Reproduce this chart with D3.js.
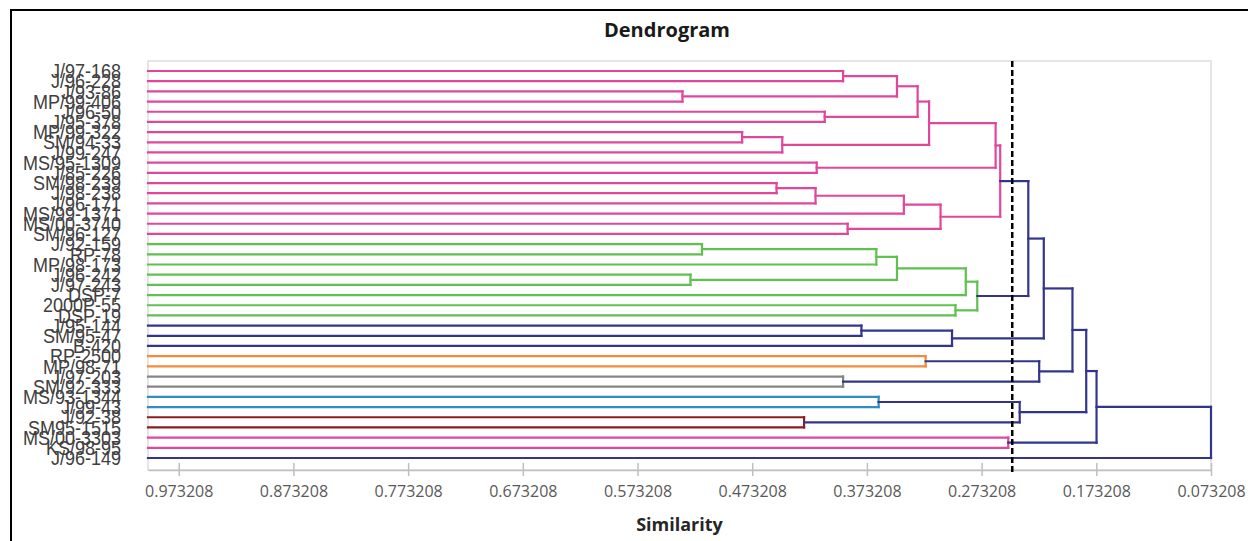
<!DOCTYPE html>
<html>
<head>
<meta charset="utf-8">
<script src="https://cdn.jsdelivr.net/npm/d3@7"></script>
<style>
  body { margin: 0; background: #fff; }
  svg { display: block; }
</style>
</head>
<body>
<svg id="chart" width="1248" height="541"></svg>
<script>
// Leaf names, top to bottom
const leafLabels = [
  "J/97-168", "J/96-228", "J/93-86", "MP/99-406", "J/96-50", "J/95-378",
  "MP/99-322", "SM/94-33", "J/99-247", "MS/95-1309", "J/85-226", "SM/98-239",
  "J/98-238", "J/96-171", "MS/99-1371", "MS/00-3740", "SM/96-127",
  "J/92-159", "RP-78", "MP/98-173", "J/96-242", "J/97-243", "DSP-7",
  "2000P-55", "DSP-19",
  "J/95-144", "SM/95-47", "B-420",
  "RP-2500", "MP/98-71",
  "J/97-203", "SM/92-333",
  "MS/93-1344", "J/99-43",
  "J/92-38", "SM95-1515",
  "MS/00-3303", "KS/98-95",
  "J/96-149"
];

// Cluster membership of each leaf (same order as leafLabels)
const leafGroups = [
  "pink", "pink", "pink", "pink", "pink", "pink", "pink", "pink", "pink",
  "pink", "pink", "pink", "pink", "pink", "pink", "pink", "pink",
  "green", "green", "green", "green", "green", "green", "green", "green",
  "navy", "navy", "navy",
  "orange", "orange",
  "gray", "gray",
  "blue", "blue",
  "darkred", "darkred",
  "pink", "pink",
  "navy"
];

const groupColors = {
  pink: "#e0479c",
  green: "#5fc14f",
  navy: "#33358c",
  orange: "#f68a3a",
  gray: "#858585",
  blue: "#2e8dc2",
  darkred: "#8c1b22"
};

// Agglomeration steps: ids 0..38 are leaves, merge k creates node 39 + k
const mergePairs = [
  [0, 1], [2, 3], [39, 40], [4, 5], [41, 42], [6, 7], [44, 8], [43, 45],
  [9, 10], [46, 47], [11, 12], [49, 13], [50, 14], [15, 16], [51, 52],
  [48, 53], [17, 18], [55, 19], [20, 21], [56, 57], [58, 22], [23, 24],
  [59, 60], [54, 61], [25, 26], [63, 27], [62, 64], [28, 29], [30, 31],
  [66, 67], [65, 68], [32, 33], [34, 35], [70, 71], [69, 72], [36, 37],
  [73, 74], [75, 38]
];

// Similarity level at which each merge happens
const mergeSimilarity = [
  0.394, 0.534, 0.347, 0.410, 0.329, 0.482, 0.447, 0.319,
  0.417, 0.261, 0.452, 0.418, 0.341, 0.390, 0.309,
  0.257, 0.517, 0.365, 0.527, 0.347, 0.287, 0.296,
  0.277, 0.2325, 0.378, 0.299, 0.219, 0.322, 0.394,
  0.223, 0.194, 0.363, 0.428, 0.240, 0.182, 0.250,
  0.173, 0.073208
];

const tickValues = [0.973208, 0.873208, 0.773208, 0.673208, 0.573208,
                    0.473208, 0.373208, 0.273208, 0.173208, 0.073208];
const tickLabels = ["0.973208", "0.873208", "0.773208", "0.673208", "0.573208",
                    "0.473208", "0.373208", "0.273208", "0.173208", "0.073208"];

const cutSimilarity = 0.2465;
const leafSimilarity = 1.0;

// ---- layout ----
const plot = { left: 148, right: 1211, top: 61, bottom: 470 };
const svg = d3.select("#chart");

const x = d3.scaleLinear()
  .domain([leafSimilarity, 0.073208])
  .range([plot.left, plot.right]);

const y = d3.scalePoint()
  .domain(d3.range(leafLabels.length))
  .range([71, 458]);

// Build the tree from the merge list
const nodes = leafLabels.map((name, i) => ({ name, index: i, sim: leafSimilarity, group: leafGroups[i] }));
mergePairs.forEach(([a, b], k) => {
  nodes.push({ sim: mergeSimilarity[k], children: [nodes[a], nodes[b]] });
});
const root = d3.hierarchy(nodes[nodes.length - 1]);

// Vertical position and colour of every node
root.eachAfter(n => {
  if (!n.children) {
    n.py = y(n.data.index);
    n.group = n.data.group;
  } else {
    n.py = d3.mean(n.children, c => c.py);
    const g0 = n.children[0].group;
    const same = n.children.every(c => c.group === g0);
    n.group = (same && n.data.sim >= cutSimilarity) ? g0 : "navy";
  }
  n.px = x(n.data.sim);
});

// Chart border
svg.append("rect")
  .attr("x", 11).attr("y", 10)
  .attr("width", 1300).attr("height", 600)
  .attr("fill", "none").attr("stroke", "#000").attr("stroke-width", 2);

// Plot frame
svg.append("rect")
  .attr("x", plot.left).attr("y", plot.top)
  .attr("width", plot.right - plot.left).attr("height", plot.bottom - plot.top)
  .attr("fill", "none").attr("stroke", "#d4d4d4").attr("stroke-width", 1.2);

// Title
svg.append("text")
  .attr("x", 667).attr("y", 37)
  .attr("text-anchor", "middle")
  .style("font-family", "'Open Sans', sans-serif")
  .style("font-weight", "bold")
  .style("font-size", "20px")
  .attr("fill", "#1a1a1a")
  .text("Dendrogram");

// Axis
const axis = d3.axisBottom(x)
  .tickValues(tickValues)
  .tickFormat((d, i) => tickLabels[i])
  .tickSizeInner(6)
  .tickSizeOuter(0);

const gAxis = svg.append("g")
  .attr("transform", `translate(0,${plot.bottom})`)
  .call(axis);
gAxis.select(".domain").attr("stroke", "#bfbfbf").attr("stroke-width", 1.5);
gAxis.selectAll(".tick line").attr("y1", -7).attr("y2", 6).attr("stroke", "#bfbfbf").attr("stroke-width", 1.5);
gAxis.selectAll(".tick text")
  .attr("y", 16)
  .attr("fill", "#595959")
  .style("font-family", "'Open Sans', sans-serif")
  .style("font-size", "16px");

svg.append("text")
  .attr("x", (plot.left + plot.right) / 2).attr("y", 531)
  .attr("text-anchor", "middle")
  .style("font-family", "'Open Sans', sans-serif")
  .style("font-weight", "bold")
  .style("font-size", "18px")
  .attr("fill", "#262626")
  .text("Similarity");

// Leaf labels
svg.append("g").selectAll("text")
  .data(root.leaves())
  .join("text")
  .attr("transform", d => `translate(121,${d.py}) scale(0.9,1)`)
  .attr("dy", "0.36em")
  .attr("text-anchor", "end")
  .attr("fill", "#404040")
  .style("font-family", "'Liberation Sans', Arial, sans-serif")
  .style("font-size", "20px")
  .text(d => d.data.name);

// Dendrogram links: horizontal segments take the parent's colour,
// vertical segments the colour of the node they belong to
const gLinks = svg.append("g").attr("fill", "none").attr("stroke-width", 2.2).attr("stroke-linecap", "square");

const internals = root.descendants().filter(n => n.children);
internals.sort((a, b) => (a.group === "navy") - (b.group === "navy"));

internals.forEach(n => {
  const col = groupColors[n.group];
  n.children.forEach(c => {
    gLinks.append("line")
      .attr("x1", c.px).attr("x2", n.px)
      .attr("y1", c.py).attr("y2", c.py)
      .attr("stroke", col);
  });
  gLinks.append("line")
    .attr("x1", n.px).attr("x2", n.px)
    .attr("y1", n.children[0].py).attr("y2", n.children[1].py)
    .attr("stroke", col);
});

// Cut level
svg.append("line")
  .attr("x1", x(cutSimilarity)).attr("x2", x(cutSimilarity))
  .attr("y1", plot.top).attr("y2", plot.bottom + 5)
  .attr("stroke", "#000").attr("stroke-width", 2.5)
  .attr("stroke-dasharray", "6,3");
</script>
</body>
</html>
